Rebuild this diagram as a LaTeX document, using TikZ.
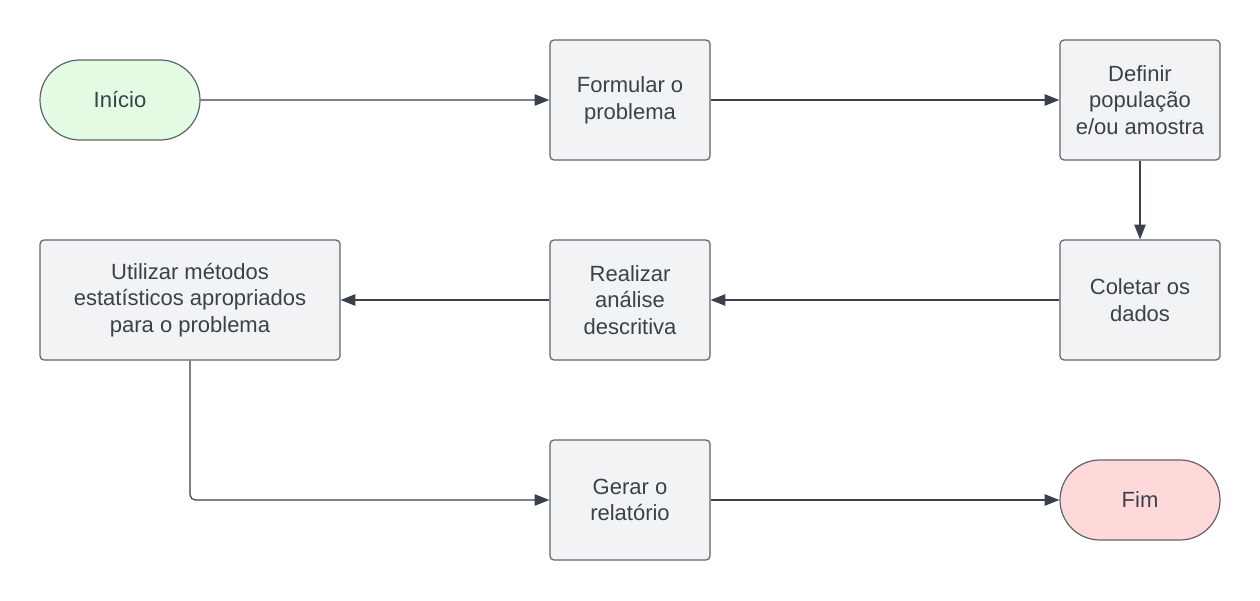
\documentclass[tikz,border=0pt]{standalone}
\usepackage{fontspec}
\setmainfont{Liberation Sans}
\usetikzlibrary{arrows.meta,shapes.misc}
\definecolor{txt}{HTML}{3A414A}
\definecolor{bord}{HTML}{5F646B}
\definecolor{boxfill}{HTML}{F2F3F5}
\definecolor{greenfill}{HTML}{E3FAE3}
\definecolor{pinkfill}{HTML}{FFD9D9}
\tikzset{
  base/.style={draw=bord, line width=0.9pt, text=txt, align=center,
    font=\fontsize{16.5pt}{20pt}\selectfont, inner sep=0pt},
  procbox/.style={base, fill=boxfill, rounded corners=3pt,
    minimum width=120pt, minimum height=90pt},
  widebox/.style={procbox, minimum width=225pt},
  terminal/.style={base, rounded rectangle, minimum width=120pt, minimum height=60pt},
  conn/.style={draw=txt, line width=0.9pt, -{Triangle[length=11pt,width=8.5pt]}}
}
\begin{document}
\begin{tikzpicture}[x=0.75pt,y=-0.75pt]
\useasboundingbox (0,0) rectangle (1260,600);
\node[terminal, fill=greenfill] (inicio) at (120,100) {Início};
\node[procbox] (formular) at (630,100) {Formular o\\problema};
\node[procbox] (definir) at (1140,100) {Definir\\população\\e/ou amostra};
\node[procbox] (coletar) at (1140,300) {Coletar os\\dados};
\node[procbox] (realizar) at (630,300) {Realizar\\análise\\descritiva};
\node[widebox] (utilizar) at (190,300) {Utilizar métodos\\estatísticos apropriados\\para o problema};
\node[procbox] (gerar) at (630,500) {Gerar o\\relatório};
\node[terminal, fill=pinkfill] (fim) at (1140,500) {Fim};
\draw[conn] (inicio) -- (formular);
\draw[conn] (formular) -- (definir);
\draw[conn] (definir) -- (coletar);
\draw[conn] (coletar) -- (realizar);
\draw[conn] (realizar) -- (utilizar);
\draw[conn, rounded corners=4pt] (utilizar.south) |- (gerar.west);
\draw[conn] (gerar) -- (fim);
\end{tikzpicture}
\end{document}
